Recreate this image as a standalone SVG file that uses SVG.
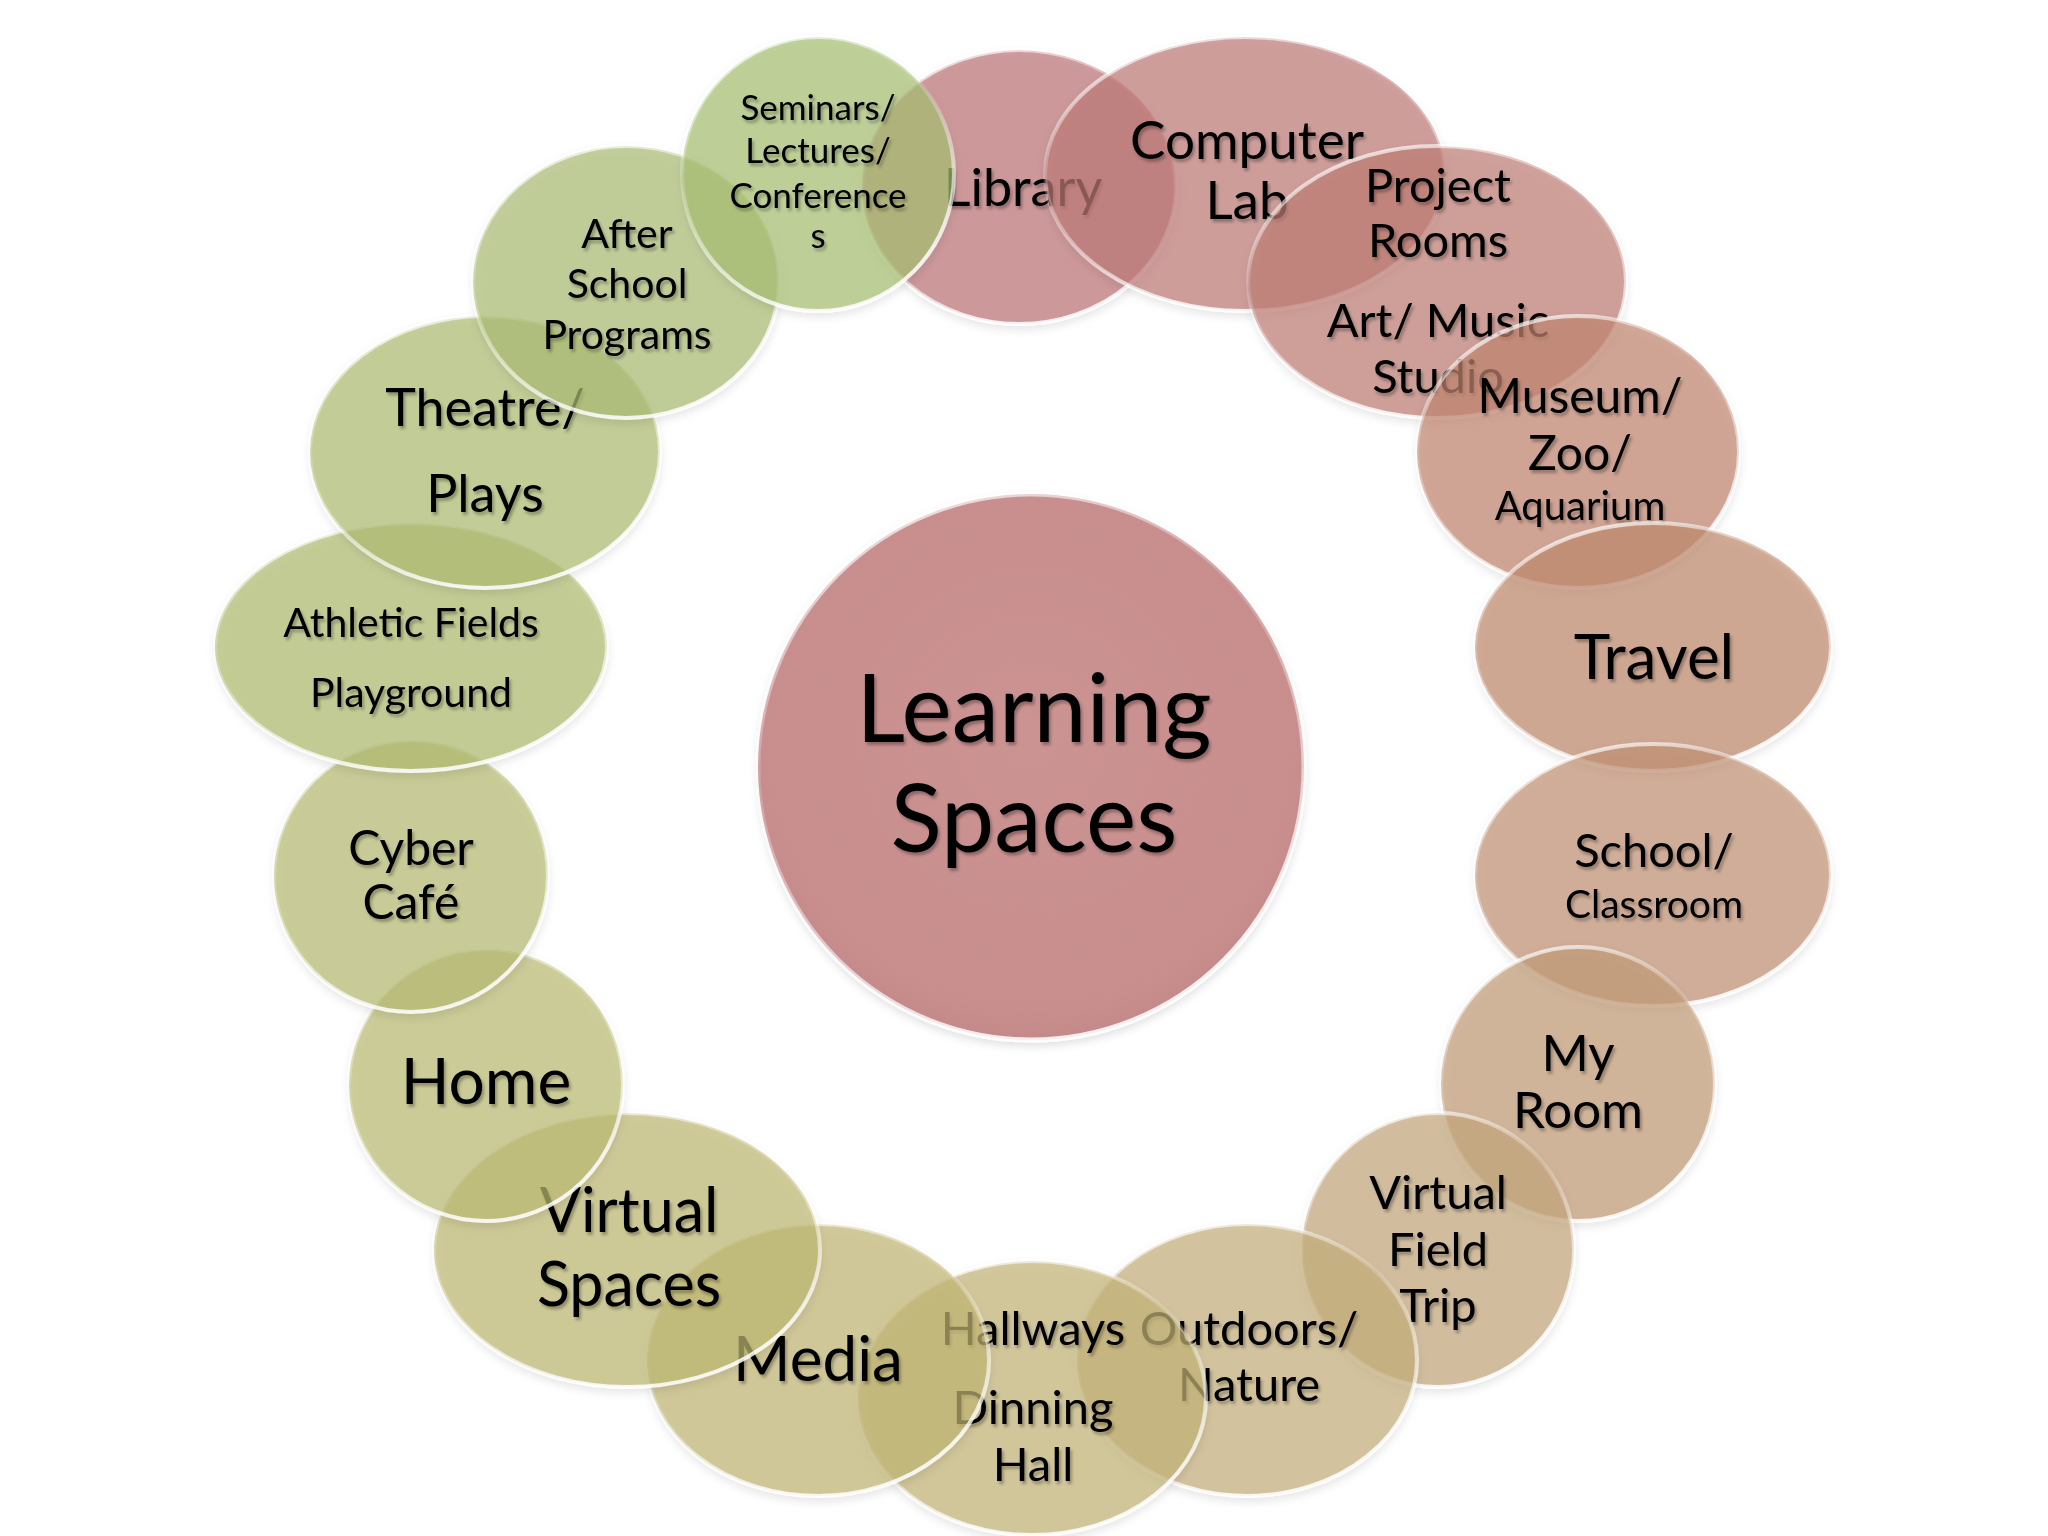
<svg xmlns="http://www.w3.org/2000/svg" width="2048" height="1536" viewBox="0 0 2048 1536">
<defs>
<filter id="ts" x="-10%" y="-20%" width="120%" height="150%">
<feDropShadow dx="2" dy="3" stdDeviation="1.5" flood-color="#000" flood-opacity="0.3"/>
</filter>
<filter id="sh" x="-10%" y="-10%" width="120%" height="130%">
<feDropShadow dx="0" dy="4" stdDeviation="4" flood-color="#000" flood-opacity="0.12"/>
</filter>
<linearGradient id="rim" x1="0" y1="0" x2="0.4" y2="1">
<stop offset="0" stop-color="#fff" stop-opacity="0.9"/>
<stop offset="0.45" stop-color="#fff" stop-opacity="0.15"/>
<stop offset="1" stop-color="#fff" stop-opacity="0.85"/>
</linearGradient>
<radialGradient id="ctr" cx="0.5" cy="0.45" r="0.55">
<stop offset="0" stop-color="#cc9393"/>
<stop offset="0.9" stop-color="#c88e8e"/>
<stop offset="1" stop-color="#c48989"/>
</radialGradient>
</defs>
<style>
.b{fill-opacity:0.7;stroke:url(#rim);stroke-width:4;filter:url(#sh)}
text{font-family:Lato,"Open Sans","Liberation Sans",sans-serif;fill:#000;text-anchor:middle;filter:url(#ts)}
</style>
<rect width="2048" height="1536" fill="#fff"/>
<g id="center">
<circle cx="1031" cy="767" r="273" fill="url(#ctr)" stroke="url(#rim)" stroke-width="5" filter="url(#sh)"/>
<text x="1034" y="742" font-size="95">Learning</text>
<text x="1034" y="852" font-size="95">Spaces</text>
</g>
<g id="library"><ellipse class="b" cx="1019" cy="187" rx="157" ry="137" fill="#bc7478"/><text x="1023" y="206" font-size="52">Library</text></g>
<g id="computer-lab"><ellipse class="b" cx="1245" cy="174" rx="200" ry="137" fill="#be7a77"/><text x="1247" y="159" font-size="53">Computer</text><text x="1247" y="219" font-size="53">Lab</text></g>
<g id="project-rooms"><ellipse class="b" cx="1437" cy="282" rx="189" ry="136" fill="#bd7e74"/><text x="1438" y="202" font-size="47">Project</text><text x="1438" y="257" font-size="47">Rooms</text><text x="1438" y="337" font-size="47">Art/ Music</text><text x="1438" y="393" font-size="47">Studio</text></g>
<g id="museum"><ellipse class="b" cx="1578" cy="452" rx="161" ry="136" fill="#c0856f"/><text x="1580" y="413" font-size="48">Museum/</text><text x="1580" y="470" font-size="48">Zoo/</text><text x="1580" y="520" font-size="40">Aquarium</text></g>
<g id="travel"><ellipse class="b" cx="1653" cy="647" rx="178" ry="124" fill="#bf896c"/><text x="1654" y="679" font-size="62">Travel</text></g>
<g id="school"><ellipse class="b" cx="1653" cy="875" rx="178" ry="131" fill="#c09173"/><text x="1654" y="867" font-size="47">School/</text><text x="1654" y="918" font-size="39">Classroom</text></g>
<g id="my-room"><ellipse class="b" cx="1578" cy="1084" rx="137" ry="137" fill="#c29b77"/><text x="1578" y="1071" font-size="51">My</text><text x="1578" y="1128" font-size="51">Room</text></g>
<g id="virtual-field-trip"><ellipse class="b" cx="1438" cy="1250" rx="136" ry="137" fill="#c3a57c"/><text x="1438" y="1209" font-size="47">Virtual</text><text x="1438" y="1266" font-size="47">Field</text><text x="1438" y="1322" font-size="47">Trip</text></g>
<g id="outdoors"><ellipse class="b" cx="1247" cy="1360" rx="170" ry="136" fill="#c5ae7a"/><text x="1249" y="1345" font-size="47">Outdoors/</text><text x="1249" y="1401" font-size="47">Nature</text></g>
<g id="hallways"><ellipse class="b" cx="1032" cy="1398" rx="174" ry="137" fill="#c3b377"/><text x="1033" y="1345" font-size="47">Hallways</text><text x="1033" y="1424" font-size="47">Dinning</text><text x="1033" y="1481" font-size="47">Hall</text></g>
<g id="media"><ellipse class="b" cx="818" cy="1360" rx="171" ry="136" fill="#c2b574"/><text x="818" y="1381" font-size="62">Media</text></g>
<g id="virtual-spaces"><ellipse class="b" cx="627" cy="1250" rx="193" ry="137" fill="#bdb872"/><text x="629" y="1232" font-size="61">Virtual</text><text x="629" y="1306" font-size="61">Spaces</text></g>
<g id="home"><ellipse class="b" cx="486" cy="1085" rx="137" ry="136" fill="#baba73"/><text x="486" y="1104" font-size="64">Home</text></g>
<g id="cyber-cafe"><ellipse class="b" cx="411" cy="876" rx="137" ry="136" fill="#b6ba72"/><text x="411" y="865" font-size="48">Cyber</text><text x="411" y="919" font-size="48">Café</text></g>
<g id="athletic-fields"><ellipse class="b" cx="411" cy="647" rx="196" ry="124" fill="#b0ba6f"/><text x="411" y="637" font-size="41">Athletic Fields</text><text x="411" y="707" font-size="41">Playground</text></g>
<g id="theatre"><ellipse class="b" cx="485" cy="452" rx="175" ry="136" fill="#aebc72"/><text x="485" y="426" font-size="52">Theatre/</text><text x="485" y="512" font-size="52">Plays</text></g>
<g id="after-school"><ellipse class="b" cx="626" cy="282" rx="153" ry="136" fill="#abbc74"/><text x="627" y="248" font-size="41">After</text><text x="627" y="298" font-size="41">School</text><text x="627" y="349" font-size="41">Programs</text></g>
<g id="seminars"><ellipse class="b" cx="818" cy="174" rx="136" ry="137" fill="#a6bf72"/><text x="818" y="120" font-size="35">Seminars/</text><text x="818" y="163" font-size="35">Lectures/</text><text x="818" y="208" font-size="35">Conference</text><text x="818" y="248" font-size="35">s</text></g>
<g id="connectors"/>
</svg>
